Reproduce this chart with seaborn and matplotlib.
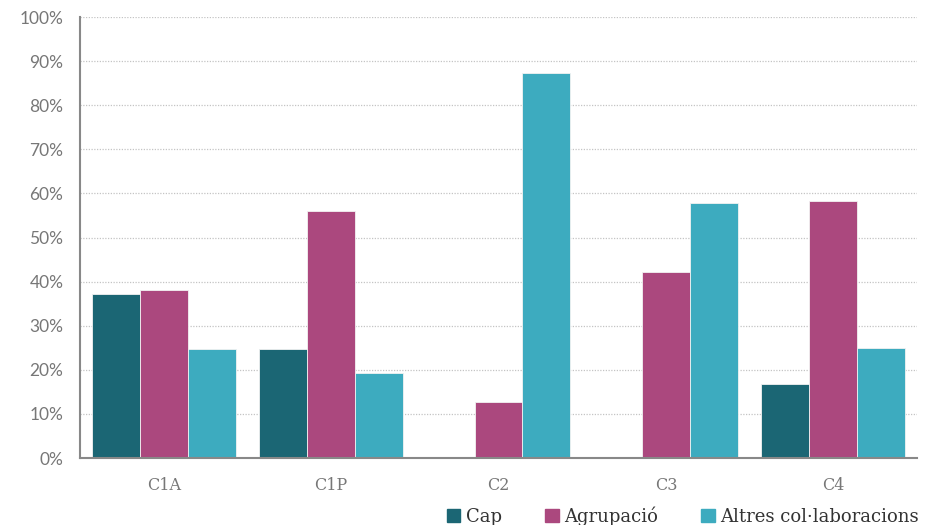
import pandas as pd
import seaborn as sns
from matplotlib import pyplot as plt
from matplotlib.ticker import PercentFormatter, FixedLocator

# dades llegides del gràfic (%)
cursos = ['C1A', 'C1P', 'C2', 'C3', 'C4']
cap = [37.2, 24.7, 0.0, 0.0, 16.7]
agrupacio = [38.1, 56.0, 12.7, 42.2, 58.3]
altres = [24.7, 19.3, 87.3, 57.8, 25.0]
series = ['Cap', 'Agrupació', 'Altres col·laboracions']
colors = ['#1B6674', '#AB487E', '#3DABBF']
y_ticks = list(range(0, 101, 10))

df = pd.DataFrame({'curs': cursos, series[0]: cap, series[1]: agrupacio, series[2]: altres})
df = df.melt(id_vars='curs', var_name='tipus', value_name='pct')

sns.set_style('white')
plt.rcParams['font.family'] = ['Lato', 'DejaVu Sans']

fig = plt.figure(figsize=(9.38, 5.25), dpi=100)
ax = fig.add_axes([0.0853, 0.1276, 0.8923, 0.84])

sns.barplot(data=df, x='curs', y='pct', hue='tipus', hue_order=series,
            palette=colors, width=0.86, edgecolor='#f2f2f2', linewidth=0.6,
            saturation=1, ax=ax, legend=False)

ax.set_ylim(0, 100)
ax.set_xlim(-0.5, 4.5)
ax.set_yticks(y_ticks)
ax.set_yticklabels(['%d%%' % v for v in y_ticks], fontfamily='Lato', fontsize=12.5, color='#777777')
ax.set_xticks(range(len(cursos)))
ax.set_xticklabels(cursos, fontfamily='DejaVu Serif', fontsize=11.5, color='#777777')
ax.grid(axis='y', color='#c4c4c4', linestyle=(0, (1, 1.2)), linewidth=0.9)
ax.set_axisbelow(True)
ax.set_xlabel('')
ax.set_ylabel('')

# marques de l'eix x entre categories
ax.xaxis.set_minor_locator(FixedLocator([i - 0.5 for i in range(6)]))
ax.tick_params(axis='x', which='major', length=0, pad=14)
ax.tick_params(axis='x', which='minor', length=6, width=1.2, color='#888888', direction='out')
ax.tick_params(axis='y', length=6, width=1.2, color='#888888', direction='out', pad=6)

sns.despine(ax=ax, top=True, right=True)
for s in ['left', 'bottom']:
    ax.spines[s].set_color('#888888')
    ax.spines[s].set_linewidth(1.5)

handles = [plt.Rectangle((0, 0), 1, 1, color=c) for c in colors]
leg = fig.legend(handles, series, loc='lower right', bbox_to_anchor=(0.997, -0.032), ncol=3,
                 frameon=False, handlelength=0.75, handleheight=0.75, handletextpad=0.3,
                 columnspacing=2.4, prop={'family': 'DejaVu Serif', 'size': 13})
for t in leg.get_texts():
    t.set_color('#333333')

fig.savefig('out.png', dpi=100)
